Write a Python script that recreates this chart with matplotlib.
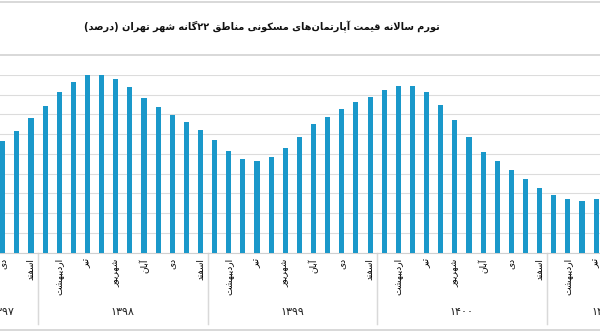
import re
import numpy as np
import matplotlib
matplotlib.use('Agg')
import matplotlib.pyplot as plt
from matplotlib.lines import Line2D
from matplotlib.transforms import blended_transform_factory

# annual inflation (%), monthly, starting at دی 1397
inflation = [56.6, 61.8, 68.1, 74.5, 81.4, 86.6, 90.0, 90.5, 88.0, 83.8,
             78.2, 73.8, 69.9, 66.2, 62.2, 57.1, 51.5, 47.6, 46.5, 48.5,
             52.9, 58.8, 65.2, 68.9, 72.6, 76.2, 78.9, 82.3, 84.3, 84.4,
             81.3, 74.8, 67.1, 58.8, 51.2, 46.5, 41.9, 37.4, 32.9, 29.4,
             27.4, 26.3, 27.1]
month_names = ['فروردین', 'اردیبهشت', 'خرداد', 'تیر', 'مرداد', 'شهریور',
               'مهر', 'آبان', 'آذر', 'دی', 'بهمن', 'اسفند']
first_month = 9  # دی
years = ['۱۳۹۷', '۱۳۹۸', '۱۳۹۹', '۱۴۰۰', '۱۴۰۱']
year_first = [-2, 3, 15, 27, 39]
year_last = [2, 14, 26, 38, 46]
title = 'تورم سالانه قیمت آپارتمان‌های مسکونی مناطق ۲۲گانه شهر تهران (درصد)'

# --- minimal Persian shaping (matplotlib has no complex text layout) ---
_forms = {}
for ch, start, n in [('آ', 0xFE81, 2), ('ا', 0xFE8D, 2), ('ب', 0xFE8F, 4),
                     ('ت', 0xFE95, 4), ('ث', 0xFE99, 4), ('ج', 0xFE9D, 4),
                     ('ح', 0xFEA1, 4), ('خ', 0xFEA5, 4), ('د', 0xFEA9, 2),
                     ('ذ', 0xFEAB, 2), ('ر', 0xFEAD, 2), ('ز', 0xFEAF, 2),
                     ('س', 0xFEB1, 4), ('ش', 0xFEB5, 4), ('ص', 0xFEB9, 4),
                     ('ض', 0xFEBD, 4), ('ط', 0xFEC1, 4), ('ظ', 0xFEC5, 4),
                     ('ع', 0xFEC9, 4), ('غ', 0xFECD, 4), ('ف', 0xFED1, 4),
                     ('ق', 0xFED5, 4), ('ل', 0xFEDD, 4), ('م', 0xFEE1, 4),
                     ('ن', 0xFEE5, 4), ('ه', 0xFEE9, 4), ('و', 0xFEED, 2),
                     ('پ', 0xFB56, 4), ('چ', 0xFB7A, 4), ('ژ', 0xFB8A, 2),
                     ('ک', 0xFB8E, 4), ('گ', 0xFB92, 4), ('ی', 0xFBFC, 4)]:
    _forms[ch] = [chr(start + k) for k in range(n)]
_lam_alef = {'ا': ('\uFEFB', '\uFEFC'), 'آ': ('\uFEF5', '\uFEF6')}


def _dual(c):
    return c in _forms and len(_forms[c]) == 4


def shape(text):
    out = []
    i = 0
    while i < len(text):
        c = text[i]
        prev = text[i - 1] if i > 0 else ''
        nxt = text[i + 1] if i + 1 < len(text) else ''
        if c not in _forms:
            if c != '\u200c':
                out.append(c)
            i += 1
            continue
        to_prev = _dual(prev)
        if c == 'ل' and nxt in _lam_alef:
            out.append(_lam_alef[nxt][1 if to_prev else 0])
            i += 2
            continue
        to_next = _dual(c) and nxt in _forms
        f = _forms[c]
        if to_prev and to_next:
            out.append(f[3])
        elif to_next:
            out.append(f[2])
        elif to_prev:
            out.append(f[1])
        else:
            out.append(f[0])
        i += 1
    return ''.join(out)


def rtl(text):
    s = shape(text)[::-1]
    s = re.sub(r'[0-9\u06f0-\u06f9]+', lambda m: m.group(0)[::-1], s)
    return s.translate(str.maketrans('()', ')('))


plt.rcParams['font.family'] = ['DejaVu Sans']

W, H = 600, 335
fig = plt.figure(figsize=(W / 100, H / 100), dpi=100)

# plot area: y=0 at 252.7px, y=90 at 75px; bars every 14.13px from x=2.7px
bottom = 1 - 252.7 / H
top = 1 - 75 / H
ax = fig.add_axes([0, bottom, 1, top - bottom])

x = np.arange(len(inflation))
ax.bar(x, inflation, width=0.36, color='#1A98CA', zorder=3)
ax.set_xlim(-2.7 / 14.13, (W - 2.7) / 14.13)
ax.set_ylim(0, 90)
ax.set_yticks(np.arange(0, 91, 10))
ax.grid(axis='y', color='#dcdcdc', lw=0.8, zorder=0)
for s in ['left', 'right', 'top']:
    ax.spines[s].set_visible(False)
ax.spines['bottom'].set_color('#d0d0d0')
ax.spines['bottom'].set_linewidth(0.8)

labels = [month_names[(first_month + i) % 12] for i in x]
tick_pos = [i for i in x if (first_month + i) % 2 == 1]
ax.set_xticks(tick_pos)
ax.set_xticklabels([rtl(labels[i]) for i in tick_pos], rotation=90,
                   fontsize=6.5, va='top', ha='center')
ax.tick_params(axis='x', length=0, pad=4)
ax.tick_params(axis='y', length=0, labelleft=False)

# year groups: separators and labels under the month labels
trans = blended_transform_factory(ax.transData, ax.transAxes)
for yr, a, b in zip(years, year_first, year_last):
    for edge in (a - 0.5, b + 0.5):
        ax.add_line(Line2D([edge, edge], [0, -0.40], transform=trans,
                           color='#d9d9d9', lw=0.9, clip_on=False))
    ax.text((a + b) / 2, -0.335, rtl(yr), transform=trans, ha='center',
            va='center', fontsize=8, color='#222222', clip_on=False)

fig.text(262 / W, 1 - 27 / H, rtl(title), ha='center', va='center',
         fontsize=7.0, fontweight='bold', color='#111111')

# frame lines of the chart box
for ypx in (1.5, 55, 329.5):
    fig.add_artist(Line2D([0, 1], [1 - ypx / H] * 2, transform=fig.transFigure,
                          color='#d6d6d6', lw=1.3))

fig.savefig('out.png', dpi=100)
